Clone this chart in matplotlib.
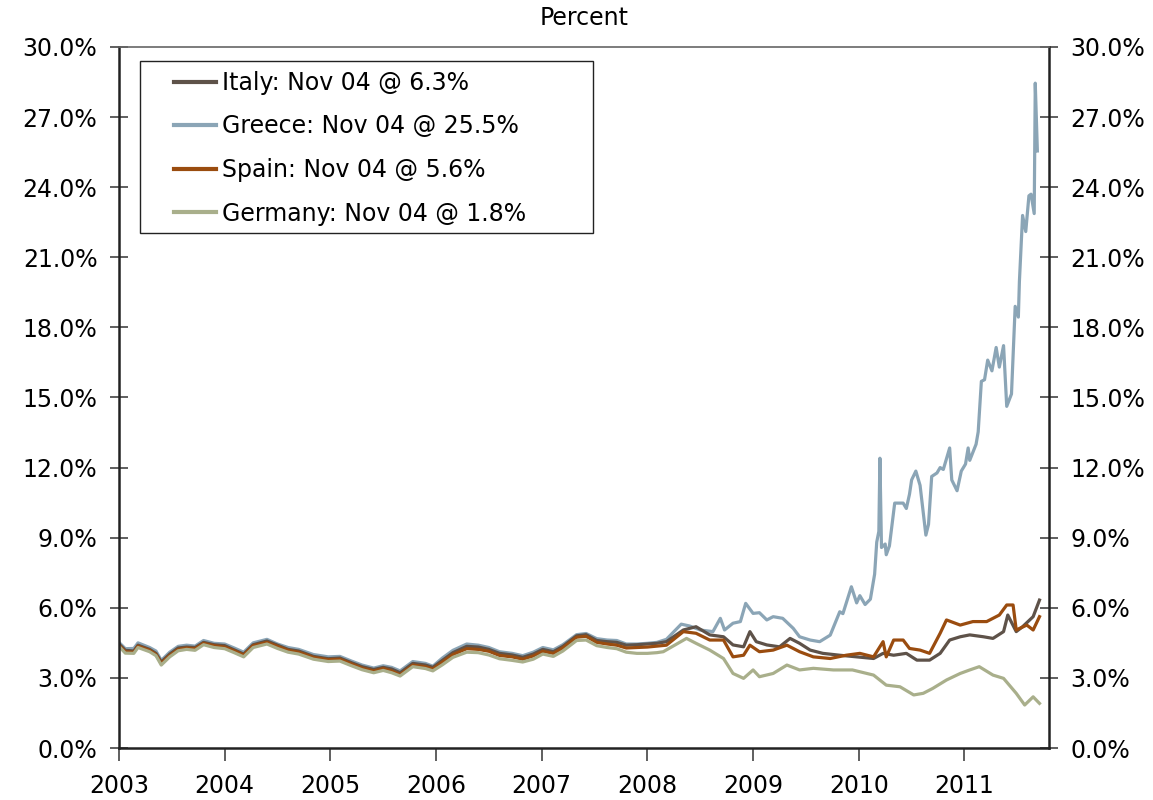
import numpy as np
import matplotlib.pyplot as plt
from matplotlib.patches import Rectangle
from matplotlib.ticker import FuncFormatter

# shared weekly-ish sampling for 2003-2007, where the four yields move together
early_dates = [2003.00, 2003.06, 2003.14, 2003.18, 2003.29, 2003.35, 2003.40, 2003.48, 2003.56, 2003.64,
               2003.72, 2003.80, 2003.90, 2004.00, 2004.09, 2004.18, 2004.27, 2004.40, 2004.50, 2004.60,
               2004.70, 2004.84, 2004.98, 2005.09, 2005.20, 2005.30, 2005.41, 2005.50, 2005.58, 2005.66,
               2005.78, 2005.90, 2005.97, 2006.06, 2006.16, 2006.29, 2006.40, 2006.50, 2006.60, 2006.72,
               2006.82, 2006.92, 2007.01, 2007.11, 2007.20, 2007.33, 2007.42, 2007.52, 2007.62, 2007.71,
               2007.80, 2007.90, 2008.00, 2008.09]

greece_early = [4.52, 4.25, 4.26, 4.50, 4.30, 4.15, 3.75, 4.10, 4.35, 4.40, 4.36, 4.60, 4.48, 4.45, 4.28,
                4.10, 4.50, 4.65, 4.45, 4.30, 4.22, 4.00, 3.90, 3.92, 3.72, 3.55, 3.42, 3.52, 3.45, 3.30,
                3.70, 3.62, 3.50, 3.85, 4.18, 4.45, 4.40, 4.30, 4.12, 4.05, 3.95, 4.10, 4.30, 4.20, 4.42,
                4.85, 4.90, 4.68, 4.62, 4.60, 4.45, 4.45, 4.48, 4.52]
italy_early = [4.45, 4.18, 4.15, 4.40, 4.22, 4.05, 3.68, 4.02, 4.28, 4.32, 4.30, 4.52, 4.42, 4.38, 4.20,
               4.02, 4.42, 4.58, 4.40, 4.22, 4.15, 3.92, 3.82, 3.85, 3.65, 3.48, 3.36, 3.45, 3.38, 3.22,
               3.62, 3.55, 3.45, 3.75, 4.08, 4.35, 4.32, 4.22, 4.05, 3.98, 3.88, 4.02, 4.22, 4.12, 4.35,
               4.80, 4.85, 4.60, 4.55, 4.52, 4.40, 4.42, 4.45, 4.48]
spain_early = [4.40, 4.12, 4.10, 4.36, 4.18, 4.00, 3.62, 3.96, 4.22, 4.28, 4.25, 4.48, 4.38, 4.32, 4.16,
               3.98, 4.38, 4.52, 4.35, 4.18, 4.10, 3.88, 3.78, 3.80, 3.60, 3.42, 3.30, 3.40, 3.30, 3.14,
               3.55, 3.48, 3.38, 3.68, 4.00, 4.25, 4.22, 4.14, 3.96, 3.90, 3.80, 3.94, 4.14, 4.05, 4.28,
               4.74, 4.78, 4.52, 4.45, 4.40, 4.28, 4.30, 4.32, 4.36]
germany_early = [4.35, 4.06, 4.05, 4.30, 4.12, 3.95, 3.55, 3.90, 4.16, 4.22, 4.18, 4.42, 4.30, 4.25, 4.08,
                 3.90, 4.30, 4.45, 4.26, 4.10, 4.02, 3.80, 3.70, 3.72, 3.52, 3.35, 3.22, 3.32, 3.22, 3.08,
                 3.48, 3.40, 3.30, 3.56, 3.88, 4.10, 4.08, 3.98, 3.82, 3.75, 3.68, 3.80, 4.02, 3.92, 4.15,
                 4.60, 4.62, 4.38, 4.30, 4.25, 4.10, 4.05, 4.05, 4.08]

# 2008 onwards, each country on its own dates
greece_late_dates = [2008.18, 2008.32, 2008.40, 2008.50, 2008.62, 2008.69, 2008.73, 2008.81, 2008.88, 2008.93,
                     2009.00, 2009.06, 2009.13, 2009.19, 2009.28, 2009.38, 2009.44, 2009.54, 2009.63, 2009.73,
                     2009.82, 2009.85, 2009.93, 2009.98, 2010.01, 2010.06, 2010.11, 2010.15, 2010.17, 2010.19,
                     2010.20, 2010.215, 2010.25, 2010.26, 2010.29, 2010.34, 2010.42, 2010.45, 2010.48, 2010.50,
                     2010.54, 2010.58, 2010.635, 2010.66, 2010.69, 2010.74, 2010.77, 2010.80, 2010.83, 2010.86,
                     2010.88, 2010.93, 2010.97, 2011.01, 2011.035, 2011.05, 2011.11, 2011.13, 2011.16, 2011.19,
                     2011.22, 2011.26, 2011.30, 2011.33, 2011.37, 2011.40, 2011.445, 2011.48, 2011.51, 2011.52,
                     2011.55, 2011.58, 2011.61, 2011.63, 2011.66, 2011.67, 2011.69]
greece_late = [4.65, 5.30, 5.22, 5.05, 4.98, 5.55, 5.05, 5.34, 5.41, 6.19,
               5.76, 5.79, 5.48, 5.62, 5.55, 5.12, 4.76, 4.62, 4.55, 4.83,
               5.83, 5.75, 6.90, 6.21, 6.52, 6.14, 6.37, 7.44, 8.81, 9.27,
               12.40, 8.58, 8.73, 8.27, 8.65, 10.48, 10.48, 10.25, 10.86, 11.47,
               11.85, 11.24, 9.11, 9.57, 11.62, 11.77, 12.00, 11.92, 12.38, 12.84,
               11.47, 11.01, 11.85, 12.15, 12.84, 12.31, 13.00, 13.53, 15.69, 15.76,
               16.60, 16.14, 17.14, 16.30, 17.22, 14.62, 15.15, 18.90, 18.44, 19.97,
               22.79, 22.10, 23.63, 23.70, 22.87, 28.45, 25.55]

italy_late_dates = [2008.18, 2008.34, 2008.46, 2008.59, 2008.72, 2008.81, 2008.91, 2008.97, 2009.03, 2009.13,
                    2009.25, 2009.35, 2009.44, 2009.54, 2009.66, 2009.82, 2009.98, 2010.14, 2010.23, 2010.33,
                    2010.45, 2010.55, 2010.67, 2010.77, 2010.86, 2010.96, 2011.05, 2011.18, 2011.27, 2011.37,
                    2011.41, 2011.49, 2011.55, 2011.65, 2011.71]
italy_late = [4.55, 5.05, 5.19, 4.84, 4.76, 4.41, 4.33, 4.98, 4.55, 4.41,
              4.33, 4.69, 4.48, 4.19, 4.05, 3.97, 3.90, 3.83, 4.05, 3.97,
              4.05, 3.76, 3.76, 4.05, 4.62, 4.76, 4.84, 4.76, 4.69, 4.98,
              5.69, 4.98, 5.19, 5.62, 6.33]

spain_late_dates = [2008.18, 2008.34, 2008.46, 2008.59, 2008.72, 2008.81, 2008.91, 2008.97, 2009.06, 2009.19,
                    2009.32, 2009.44, 2009.57, 2009.73, 2009.88, 2010.01, 2010.14, 2010.23, 2010.26, 2010.33,
                    2010.42, 2010.48, 2010.58, 2010.67, 2010.77, 2010.83, 2010.96, 2011.08, 2011.21, 2011.33,
                    2011.40, 2011.46, 2011.49, 2011.59, 2011.65, 2011.71]
spain_late = [4.40, 4.98, 4.91, 4.62, 4.62, 3.90, 3.97, 4.40, 4.12, 4.19,
              4.40, 4.12, 3.90, 3.83, 3.97, 4.05, 3.90, 4.55, 3.90, 4.62,
              4.62, 4.26, 4.19, 4.05, 4.91, 5.48, 5.26, 5.41, 5.41, 5.69,
              6.12, 6.12, 5.05, 5.26, 5.05, 5.62]

germany_late_dates = [2008.15, 2008.37, 2008.46, 2008.59, 2008.72, 2008.81, 2008.91, 2009.00, 2009.06, 2009.19,
                      2009.32, 2009.44, 2009.57, 2009.76, 2009.94, 2010.14, 2010.26, 2010.39, 2010.52, 2010.61,
                      2010.70, 2010.83, 2010.96, 2011.05, 2011.14, 2011.27, 2011.37, 2011.49, 2011.57, 2011.65,
                      2011.71]
germany_late = [4.12, 4.69, 4.48, 4.19, 3.83, 3.19, 2.98, 3.34, 3.05, 3.19,
                3.55, 3.34, 3.41, 3.34, 3.34, 3.12, 2.69, 2.62, 2.27, 2.34,
                2.55, 2.91, 3.19, 3.34, 3.48, 3.12, 2.98, 2.34, 1.84, 2.19,
                1.91]

labels = ["Italy: Nov 04 @ 6.3%", "Greece: Nov 04 @ 25.5%",
          "Spain: Nov 04 @ 5.6%", "Germany: Nov 04 @ 1.8%"]
colors = ["#5e5249", "#8ba5b6", "#9a4c0f", "#a9af8b"]

year_ticks = list(range(2003, 2012))
pct_ticks = np.arange(0, 31, 3)

plt.rcParams['font.family'] = ['DejaVu Sans']
FS = 17

fig = plt.figure(figsize=(11.53, 8.0), dpi=100)
ax = fig.add_axes([0.1032, 0.065, 0.8066, 0.8763])

series = [
    (early_dates + italy_late_dates, italy_early + italy_late),
    (early_dates + greece_late_dates, greece_early + greece_late),
    (early_dates + spain_late_dates, spain_early + spain_late),
    (early_dates + germany_late_dates, germany_early + germany_late),
]
# Greece goes underneath the others
lines = {}
for i in [1, 0, 2, 3]:
    x, y = series[i]
    lines[i], = ax.plot(x, y, color=colors[i], lw=2.3, label=labels[i],
                        solid_joinstyle='round')

ax.set_xlim(2003, 2011.80)
ax.set_ylim(0, 30)
ax.set_xticks(year_ticks)
ax.set_xticklabels([str(y) for y in year_ticks])
ax.set_yticks(pct_ticks)
ax.yaxis.set_major_formatter(FuncFormatter(lambda v, p: f"{v:.1f}%"))

ax.tick_params(axis='y', direction='inout', length=13, width=1.2, color='#444444',
               labelsize=FS, right=True, labelright=True, pad=9)
ax.tick_params(axis='x', direction='out', length=9, width=1.2, color='#444444',
               labelsize=FS, pad=10)

for side in ['left', 'bottom', 'right']:
    ax.spines[side].set_linewidth(1.8)
    ax.spines[side].set_color('#222222')
ax.spines['top'].set_color('#666666')
ax.spines['top'].set_linewidth(1.2)

ax.set_title("Percent", fontsize=FS, pad=16)

# legend box drawn separately so the inner padding can match the original
ax.add_patch(Rectangle((0.0226, 0.7347), 0.487, 0.2454, transform=ax.transAxes,
                       facecolor='white', edgecolor='#222222', lw=1.0, zorder=4))
leg = ax.legend([lines[i] for i in range(4)], labels, loc='upper left',
                bbox_to_anchor=(0.059, 0.966), fontsize=FS, frameon=False,
                handlelength=1.78, handletextpad=0.25, labelspacing=0.83,
                borderpad=0, borderaxespad=0)
leg.set_zorder(5)
for h in leg.get_lines():
    h.set_linewidth(3)

fig.savefig("out.png", dpi=100)
